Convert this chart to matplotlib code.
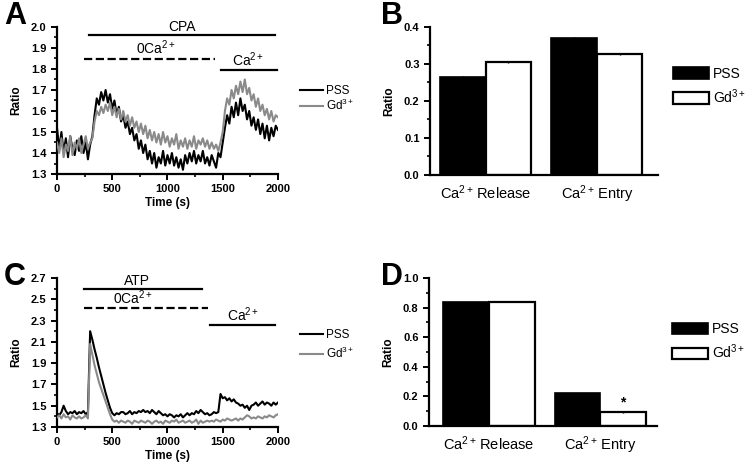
import matplotlib
matplotlib.use('Agg')
import matplotlib.pyplot as plt
from matplotlib.ticker import MultipleLocator
import numpy as np

plt.rcParams['font.family'] = ['Liberation Sans', 'DejaVu Sans']
plt.rcParams['mathtext.fontset'] = 'custom'
plt.rcParams['mathtext.rm'] = 'Liberation Sans'
plt.rcParams['mathtext.it'] = 'Liberation Sans:italic'
plt.rcParams['mathtext.bf'] = 'Liberation Sans:bold'

# time axis of the traces (s), one reading every 20 s
time_s = np.arange(0, 2001, 20)

# panel A: CPA traces
cpa_pss = [1.52, 1.42, 1.50, 1.40, 1.47, 1.38, 1.48, 1.42, 1.39, 1.46,
           1.41, 1.48, 1.40, 1.45, 1.37, 1.44, 1.48, 1.58, 1.66, 1.63,
           1.69, 1.65, 1.70, 1.64, 1.68, 1.61, 1.65, 1.58, 1.62, 1.55,
           1.58, 1.52, 1.55, 1.49, 1.52, 1.46, 1.49, 1.42, 1.46, 1.40,
           1.44, 1.37, 1.41, 1.35, 1.40, 1.33, 1.38, 1.35, 1.41, 1.34,
           1.39, 1.35, 1.40, 1.34, 1.38, 1.33, 1.37, 1.32, 1.39, 1.35,
           1.40, 1.36, 1.41, 1.35, 1.39, 1.36, 1.41, 1.35, 1.38, 1.34,
           1.39, 1.36, 1.33, 1.40, 1.38, 1.45, 1.52, 1.58, 1.54, 1.62,
           1.57, 1.64, 1.58, 1.66, 1.60, 1.63, 1.56, 1.60, 1.53, 1.57,
           1.51, 1.56, 1.49, 1.54, 1.47, 1.53, 1.46, 1.52, 1.48, 1.53,
           1.51]
cpa_gd = [1.45, 1.40, 1.47, 1.38, 1.44, 1.41, 1.48, 1.39, 1.45, 1.42,
          1.47, 1.40, 1.44, 1.48, 1.42, 1.45, 1.47, 1.55, 1.60, 1.58,
          1.62, 1.59, 1.63, 1.60, 1.64, 1.58, 1.62, 1.57, 1.61, 1.56,
          1.60, 1.55, 1.58, 1.53, 1.57, 1.52, 1.55, 1.50, 1.54, 1.49,
          1.53, 1.47, 1.51, 1.46, 1.50, 1.45, 1.49, 1.44, 1.50, 1.45,
          1.48, 1.43, 1.47, 1.44, 1.49, 1.42, 1.46, 1.43, 1.47, 1.42,
          1.46, 1.43, 1.48, 1.42, 1.46, 1.44, 1.47, 1.43, 1.46, 1.42,
          1.45, 1.42, 1.44, 1.41, 1.45, 1.50, 1.60, 1.66, 1.63, 1.70,
          1.66, 1.72, 1.68, 1.74, 1.69, 1.75, 1.68, 1.71, 1.65, 1.68,
          1.62, 1.66, 1.60, 1.63, 1.58, 1.61, 1.56, 1.60, 1.55, 1.58,
          1.57]

# panel C: ATP traces
atp_pss = [1.43, 1.41, 1.44, 1.50, 1.45, 1.42, 1.44, 1.43, 1.45, 1.42,
           1.44, 1.43, 1.45, 1.42, 1.44, 2.20, 2.12, 2.03, 1.95, 1.86,
           1.78, 1.70, 1.62, 1.55, 1.48, 1.43, 1.41, 1.43, 1.42, 1.44,
           1.44, 1.42, 1.43, 1.45, 1.42, 1.44, 1.43, 1.45, 1.44, 1.46,
           1.44, 1.45, 1.43, 1.46, 1.44, 1.42, 1.45, 1.43, 1.41, 1.42,
           1.40, 1.42, 1.41, 1.39, 1.41, 1.40, 1.42, 1.39, 1.41, 1.43,
           1.41, 1.43, 1.42, 1.45, 1.43, 1.46, 1.44, 1.42, 1.43, 1.41,
           1.42, 1.44, 1.43, 1.44, 1.61, 1.57, 1.58, 1.55, 1.57, 1.54,
           1.56, 1.53, 1.52, 1.50, 1.51, 1.48, 1.50, 1.46, 1.50, 1.51,
           1.53, 1.50, 1.52, 1.54, 1.51, 1.53, 1.52, 1.50, 1.53, 1.51,
           1.53]
atp_gd = [1.39, 1.41, 1.38, 1.42, 1.39, 1.40, 1.37, 1.41, 1.39, 1.38,
          1.40, 1.38, 1.39, 1.41, 1.38, 2.08, 1.98, 1.88, 1.80, 1.72,
          1.66, 1.60, 1.54, 1.48, 1.42, 1.37, 1.35, 1.36, 1.34, 1.36,
          1.35, 1.34, 1.36, 1.35, 1.33, 1.36, 1.35, 1.34, 1.36, 1.35,
          1.34, 1.36, 1.35, 1.33, 1.35, 1.36, 1.34, 1.35, 1.33, 1.36,
          1.35, 1.34, 1.36, 1.35, 1.37, 1.34, 1.35, 1.36, 1.34, 1.35,
          1.36, 1.34, 1.35, 1.37, 1.33, 1.36, 1.34, 1.35, 1.36, 1.35,
          1.36, 1.35, 1.37, 1.36, 1.35, 1.37, 1.36, 1.38, 1.37, 1.36,
          1.37, 1.38, 1.36, 1.38, 1.37, 1.39, 1.41, 1.40, 1.38, 1.39,
          1.38, 1.40, 1.39, 1.38, 1.40, 1.39, 1.41, 1.40, 1.39, 1.41,
          1.42]

# bar panels B and D
groups = [r'Ca$^{2+}\!$ Release', r'Ca$^{2+}\!$ Entry']
cpa_bar_pss = [0.265, 0.370]
cpa_bar_gd = [0.305, 0.328]
cpa_err_pss = [0.003, 0.003]
cpa_err_gd = [0.003, 0.003]
atp_bar_pss = [0.836, 0.221]
atp_bar_gd = [0.840, 0.093]
atp_err_pss = [0.004, 0.004]
atp_err_gd = [0.005, 0.004]

GRAY = '#8a8a8a'


def style_axes(ax):
    for s in ['top', 'right']:
        ax.spines[s].set_visible(False)
    for s in ['left', 'bottom']:
        ax.spines[s].set_linewidth(1.6)
    ax.tick_params(which='major', length=4, width=1.4, labelsize=8)
    ax.tick_params(which='minor', length=2.5, width=1.2)
    for lab in ax.get_yticklabels():
        lab.set_fontweight('bold')


def trace_panel(ax, pss, gd, ylim, yticks, yminor, bars, leg_anchor, leg_space):
    ax.plot(time_s, pss, color='black', lw=1.5, label='PSS', zorder=3)
    ax.plot(time_s, gd, color=GRAY, lw=1.5, label='Gd$^{3+}$', zorder=3)
    ax.set_xlim(0, 2000)
    ax.set_ylim(*ylim)
    ax.xaxis.set_major_locator(MultipleLocator(500))
    ax.xaxis.set_minor_locator(MultipleLocator(250))
    ax.set_yticks(yticks)
    ax.yaxis.set_minor_locator(MultipleLocator(yminor))
    style_axes(ax)
    for lab in ax.get_xticklabels():
        lab.set_fontweight('bold')
    ax.set_xlabel('Time (s)', fontsize=8.5, fontweight='bold', labelpad=2)
    ax.set_ylabel('Ratio', fontsize=8.5, fontweight='bold', labelpad=6)
    for x0, x1, y, ls, txt, tx, ty in bars:
        ax.plot([x0, x1], [y, y], color='black', lw=1.6, ls=ls, clip_on=False)
        ax.text(tx, ty, txt, ha='center', va='bottom', fontsize=10)
    ax.legend(loc='center left', bbox_to_anchor=leg_anchor, frameon=False,
              fontsize=8.5, handlelength=1.9, handletextpad=0.3,
              labelspacing=leg_space, borderaxespad=0)


def bar_panel(ax, pss, gd, err_pss, err_gd, ylim, ystep, yminor, xlim, leg_anchor):
    x = np.arange(len(groups))
    w = 0.41
    ax.bar(x - w / 2, pss, w, color='black', edgecolor='black', lw=1.2,
           yerr=err_pss, error_kw=dict(lw=1, capsize=0), label='PSS')
    ax.bar(x + w / 2, gd, w, color='white', edgecolor='black', lw=1.6,
           yerr=err_gd, error_kw=dict(lw=1, capsize=0), label='Gd$^{3+}$')
    ax.set_xlim(*xlim)
    ax.set_ylim(*ylim)
    ax.set_xticks(x)
    ax.set_xticklabels(groups, fontsize=10.5)
    ax.yaxis.set_major_locator(MultipleLocator(ystep))
    ax.yaxis.set_minor_locator(MultipleLocator(yminor))
    style_axes(ax)
    ax.tick_params(axis='x', length=0, labelsize=10.5, pad=6)
    ax.set_ylabel('Ratio', fontsize=8.5, fontweight='bold', labelpad=6)
    ax.legend(loc='center left', bbox_to_anchor=leg_anchor, frameon=False,
              fontsize=10, handlelength=2.6, handleheight=0.9,
              handletextpad=0.3, labelspacing=0.45, borderaxespad=0)


fig = plt.figure(figsize=(7.47, 4.66), dpi=100)
axA = fig.add_axes([0.0763, 0.6266, 0.2958, 0.3155])
axB = fig.add_axes([0.5756, 0.6245, 0.3052, 0.3176])
axC = fig.add_axes([0.0763, 0.0837, 0.2958, 0.3197])
axD = fig.add_axes([0.5743, 0.0858, 0.3052, 0.3176])

trace_panel(axA, cpa_pss, cpa_gd, (1.3, 2.0), np.arange(1.3, 2.01, 0.1), 0.05,
            [(290, 1970, 1.962, '-', 'CPA', 1130, 1.966),
             (240, 1430, 1.848, '--', '0Ca$^{2+}$', 900, 1.858),
             (1485, 1990, 1.795, '-', 'Ca$^{2+}$', 1730, 1.80)],
            (1.08, 0.51), 0.02)
trace_panel(axC, atp_pss, atp_gd, (1.3, 2.7), np.arange(1.3, 2.71, 0.2), 0.1,
            [(240, 1310, 2.597, '-', 'ATP', 725, 2.605),
             (240, 1365, 2.418, '--', '0Ca$^{2+}$', 690, 2.425),
             (1385, 1975, 2.258, '-', 'Ca$^{2+}$', 1685, 2.265)],
            (1.08, 0.55), 0.45)

bar_panel(axB, cpa_bar_pss, cpa_bar_gd, cpa_err_pss, cpa_err_gd,
          (0, 0.4), 0.1, 0.05, (-0.5, 1.55), (1.04, 0.6))
bar_panel(axD, atp_bar_pss, atp_bar_gd, atp_err_pss, atp_err_gd,
          (0, 1.0), 0.2, 0.1, (-0.54, 1.51), (1.04, 0.57))
axD.text(1 + 0.41 / 2, atp_bar_gd[1] + 0.02, '*', ha='center', va='bottom',
         fontsize=10, fontweight='bold')

for lbl, xf, yf in [('A', 0.005, 0.965), ('B', 0.51, 0.965),
                    ('C', 0.005, 0.405), ('D', 0.51, 0.405)]:
    fig.text(xf, yf, lbl, fontsize=22, fontweight='bold', va='center', ha='left')

fig.savefig('out.png', dpi=100)
